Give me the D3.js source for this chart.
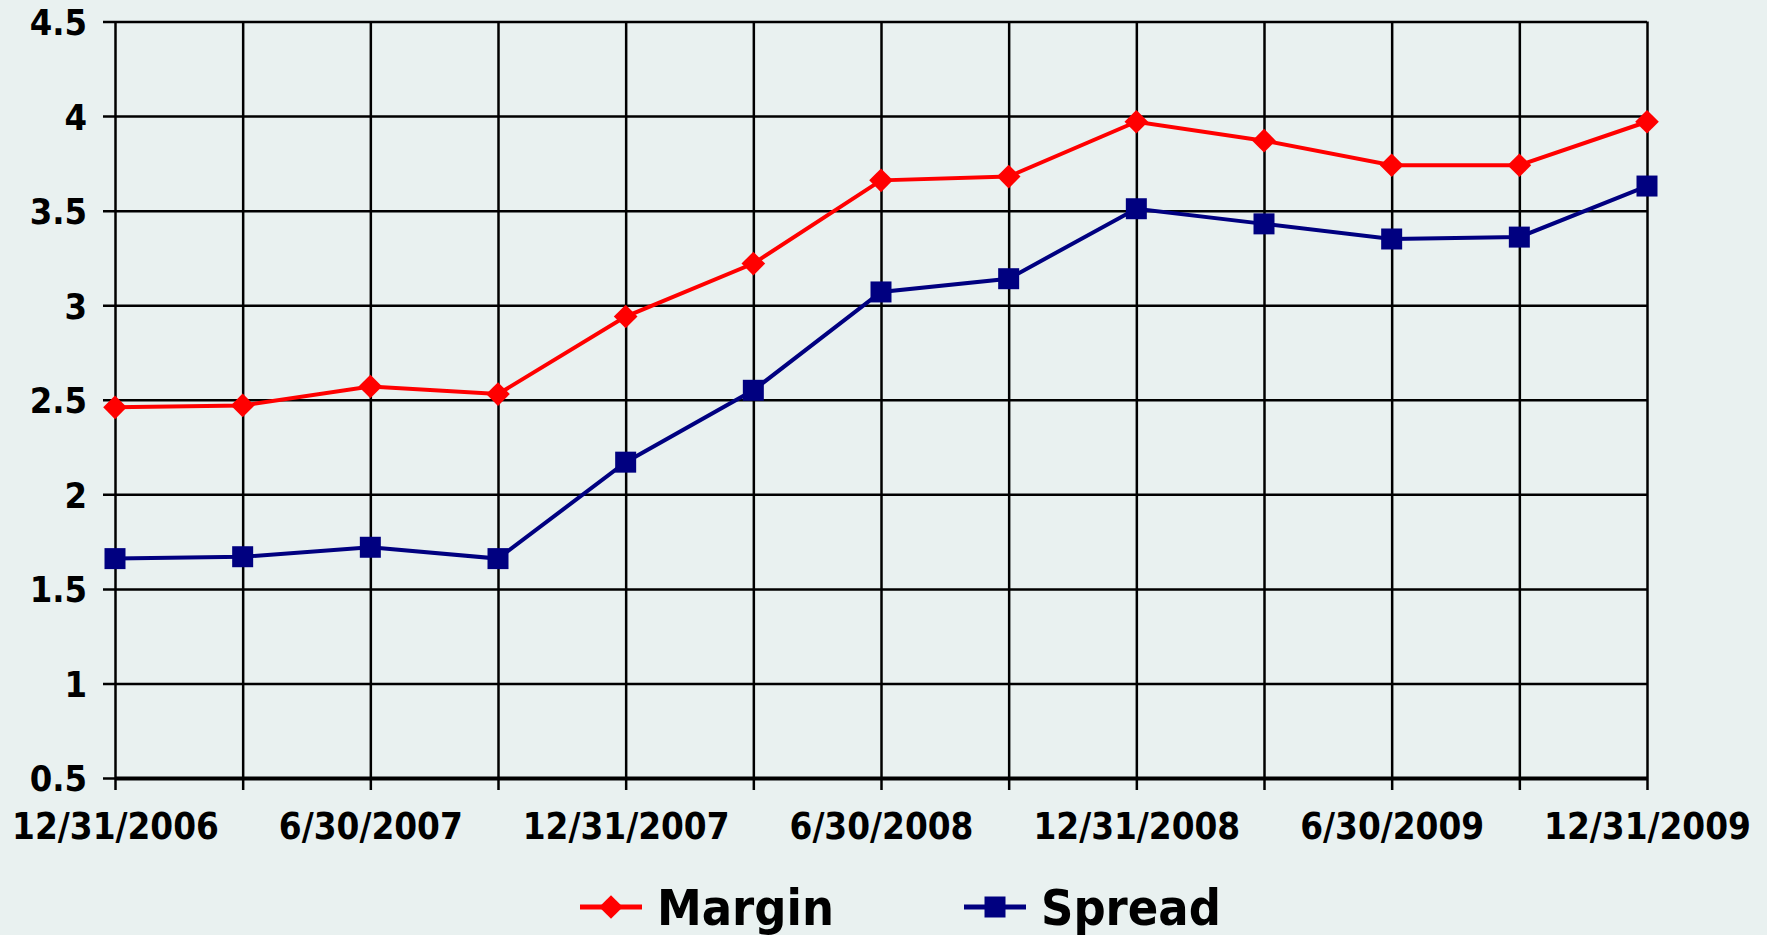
<!DOCTYPE html>
<html>
<head>
<meta charset="utf-8">
<script src="https://cdn.jsdelivr.net/npm/d3@7"></script>
<style>
  html, body { margin: 0; padding: 0; background: #e9f1f0; }
  svg { display: block; }
  .lbl { font-family: Tahoma, "DejaVu Sans Condensed", "DejaVu Sans", sans-serif; font-stretch: condensed; font-weight: bold; fill: #000; }
</style>
</head>
<body>
<script>
var quarters = ["12/31/2006", "3/31/2007", "6/30/2007", "9/30/2007", "12/31/2007",
  "3/31/2008", "6/30/2008", "9/30/2008", "12/31/2008", "3/31/2009",
  "6/30/2009", "9/30/2009", "12/31/2009"];
var margin = [2.46, 2.47, 2.57, 2.53, 2.94, 3.22, 3.66, 3.68, 3.97, 3.87, 3.74, 3.74, 3.97];
var spread = [1.66, 1.67, 1.72, 1.66, 2.17, 2.55, 3.07, 3.14, 3.51, 3.43, 3.35, 3.36, 3.63];
var yTicks = [0.5, 1, 1.5, 2, 2.5, 3, 3.5, 4, 4.5];

var W = 1767, H = 935;
var plotLeft = 115, plotRight = 1647, plotTop = 21.5, plotBottom = 778;

var svg = d3.select("body").append("svg")
  .attr("width", W)
  .attr("height", H);

svg.append("rect").attr("width", W).attr("height", H).attr("fill", "#e9f1f0");

var x = d3.scalePoint().domain(quarters).range([plotLeft, plotRight]);
var y = d3.scaleLinear().domain([0.5, 4.5]).range([plotBottom, plotTop]);

// horizontal gridlines + y labels
var yAxis = svg.append("g")
  .attr("transform", `translate(${plotLeft - 12},0)`)
  .call(d3.axisLeft(y).tickValues(yTicks).tickSize(-(plotRight - plotLeft + 12)).tickPadding(16)
    .tickFormat(d3.format("")));
yAxis.select(".domain").remove();
yAxis.selectAll("line").attr("stroke", "#000").attr("stroke-width", 2.5);
yAxis.selectAll("text").attr("class", "lbl").style("font-size", "36px").attr("dy", "0.36em");

// vertical gridlines
var xGrid = svg.append("g")
  .attr("transform", `translate(0,${plotBottom})`)
  .call(d3.axisBottom(x).tickSize(-(plotBottom - plotTop)).tickFormat(""));
xGrid.select(".domain").remove();
xGrid.selectAll("line").attr("stroke", "#000").attr("stroke-width", 2.5);

// x axis with outside ticks and labels every other quarter
var xAxis = svg.append("g")
  .attr("transform", `translate(0,${plotBottom})`)
  .call(d3.axisBottom(x).tickSize(12).tickSizeOuter(0).tickPadding(12)
    .tickFormat(function(d, i) { return i % 2 === 0 ? d : ""; }));
xAxis.select(".domain").attr("stroke", "#000").attr("stroke-width", 4);
xAxis.selectAll("line").attr("stroke", "#000").attr("stroke-width", 2.5);
xAxis.selectAll("text").attr("class", "lbl").style("font-size", "36.5px").attr("dy", "1em");

var line = d3.line()
  .x(function(d, i) { return x(quarters[i]); })
  .y(function(d) { return y(d); });

var diamond = d3.symbol().type(d3.symbolSquare).size(280);
var square = d3.symbol().type(d3.symbolSquare).size(441);

svg.append("path")
  .datum(margin)
  .attr("d", line)
  .attr("fill", "none")
  .attr("stroke", "#ff0000")
  .attr("stroke-width", 4);

svg.append("path")
  .datum(spread)
  .attr("d", line)
  .attr("fill", "none")
  .attr("stroke", "#000080")
  .attr("stroke-width", 4);

svg.selectAll(".mDot")
  .data(margin)
  .enter()
  .append("path")
  .attr("class", "mDot")
  .attr("d", diamond)
  .attr("fill", "#ff0000")
  .attr("transform", function(d, i) { return `translate(${x(quarters[i])},${y(d)}) rotate(45)`; });

svg.selectAll(".sDot")
  .data(spread)
  .enter()
  .append("path")
  .attr("class", "sDot")
  .attr("d", square)
  .attr("fill", "#000080")
  .attr("transform", function(d, i) { return `translate(${x(quarters[i])},${y(d)})`; });

// legend
var legend = [
  { name: "Margin", color: "#ff0000", sym: diamond, rot: 45, x0: 580 },
  { name: "Spread", color: "#000080", sym: square, rot: 0, x0: 964 }
];
var lg = svg.selectAll(".leg").data(legend).enter().append("g")
  .attr("class", "leg")
  .attr("transform", function(d) { return `translate(${d.x0},907)`; });
lg.append("line")
  .attr("x1", 0).attr("x2", 62)
  .attr("stroke", function(d) { return d.color; })
  .attr("stroke-width", 5);
lg.append("path")
  .attr("d", function(d) { return d.sym(); })
  .attr("fill", function(d) { return d.color; })
  .attr("transform", function(d) { return `translate(31,0) rotate(${d.rot})`; });
lg.append("text")
  .attr("class", "lbl")
  .attr("x", 77)
  .attr("y", 18)
  .style("font-size", "50px")
  .text(function(d) { return d.name; });
</script>
</body>
</html>
